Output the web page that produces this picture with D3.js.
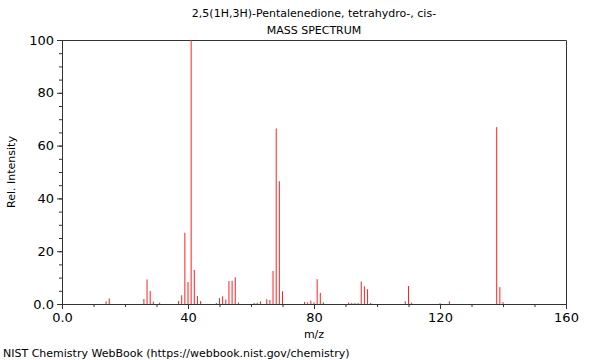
<!DOCTYPE html>
<html>
<head>
<meta charset="utf-8">
<title>Mass spectrum</title>
<style>
  body { margin: 0; background: #fff; }
  text { font-family: "DejaVu Sans", sans-serif; fill: #000; }
</style>
</head>
<body>
<script src="https://d3js.org/d3.v7.min.js"></script>
<script>
// peaks
var mz        = [14, 15, 26, 27, 28, 29, 31, 37, 38, 39, 40, 41, 42, 43, 44,
                 49, 50, 51, 52, 53, 54, 55, 56, 61, 62, 63, 65, 66, 67, 68, 69, 70,
                 77, 78, 79, 80, 81, 82, 83, 91, 92, 93, 94, 95, 96, 97, 98,
                 109, 110, 111, 120, 123, 138, 139, 140];
var intensity = [1.0, 2.1, 1.9, 9.3, 4.9, 0.9, 0.5, 1.1, 3.3, 27, 8.3, 100, 12.9, 3.0, 1.1,
                 0.4, 2.2, 2.9, 1.7, 8.7, 8.8, 10.1, 0.6, 0.4, 0.5, 1.0, 1.8, 1.5, 12.5, 66.5, 46.5, 4.8,
                 0.8, 0.6, 1.3, 0.6, 9.4, 4.2, 0.6, 0.6, 0.4, 0.4, 0.4, 8.5, 6.7, 5.6, 0.4,
                 1.0, 6.8, 0.5, 0.3, 1.0, 67, 6.4, 0.7];
var xTicks = [0, 40, 80, 120, 160];
var yTicks = [0, 20, 40, 60, 80, 100];
var title1 = "2,5(1H,3H)-Pentalenedione, tetrahydro-, cis-";
var title2 = "MASS SPECTRUM";

var width = 600, height = 360;
var mLeft = 62, mRight = 566, mTop = 40, mBottom = 304;

var svg = d3.select("body").append("svg")
    .attr("width", width)
    .attr("height", height);

var x = d3.scaleLinear().domain([0, 160]).range([mLeft, mRight]);
var y = d3.scaleLinear().domain([0, 100]).range([mBottom, mTop]);

function fmt(d) { return d === 0 ? "0.0" : String(d); }

// minor ticks
var xMinor = d3.axisBottom(x).tickValues(d3.range(0, 161, 10)).tickSize(3).tickFormat("");
var yMinor = d3.axisLeft(y).tickValues(d3.range(0, 101, 5)).tickSize(3).tickFormat("");

svg.append("g").attr("transform", "translate(0," + mBottom + ")").call(xMinor)
    .call(function(g) { g.select(".domain").remove(); g.selectAll("line").attr("stroke", "#333"); });
svg.append("g").attr("transform", "translate(" + mLeft + ",0)").call(yMinor)
    .call(function(g) { g.select(".domain").remove(); g.selectAll("line").attr("stroke", "#333"); });

var xAxis = d3.axisBottom(x).tickValues(xTicks).tickSize(5).tickSizeOuter(0).tickPadding(4).tickFormat(fmt);
var yAxis = d3.axisLeft(y).tickValues(yTicks).tickSize(5).tickSizeOuter(0).tickPadding(3).tickFormat(fmt);

svg.append("g").attr("transform", "translate(0," + mBottom + ")").call(xAxis)
    .call(function(g) {
        g.select(".domain").attr("stroke", "#333");
        g.selectAll("line").attr("stroke", "#333");
        g.selectAll("text").attr("font-size", 13).attr("font-family", "DejaVu Sans");
    });
svg.append("g").attr("transform", "translate(" + mLeft + ",0)").call(yAxis)
    .call(function(g) {
        g.select(".domain").attr("stroke", "#333");
        g.selectAll("line").attr("stroke", "#333");
        g.selectAll("text").attr("font-size", 13).attr("font-family", "DejaVu Sans");
    });

// frame top and right
svg.append("path")
    .attr("d", "M" + mLeft + "," + (mTop + 0.5) + "H" + (mRight + 0.5) + "V" + mBottom)
    .attr("fill", "none")
    .attr("stroke", "#333");

// peaks
svg.append("g").selectAll("line")
    .data(mz)
    .enter()
    .append("line")
    .attr("x1", function(d) { return x(d); })
    .attr("x2", function(d) { return x(d); })
    .attr("y1", y(0))
    .attr("y2", function(d, i) { return y(intensity[i]); })
    .attr("stroke", "#ff2020")
    .attr("stroke-width", 1);

// titles and labels
svg.append("text").attr("x", (mLeft + mRight) / 2).attr("y", 17)
    .attr("text-anchor", "middle").attr("font-size", 11).text(title1);
svg.append("text").attr("x", (mLeft + mRight) / 2).attr("y", 34)
    .attr("text-anchor", "middle").attr("font-size", 11).text(title2);
svg.append("text").attr("x", (mLeft + mRight) / 2).attr("y", 338)
    .attr("text-anchor", "middle").attr("font-size", 11).text("m/z");
svg.append("text")
    .attr("transform", "translate(15," + ((mTop + mBottom) / 2) + ") rotate(-90)")
    .attr("text-anchor", "middle").attr("font-size", 11).text("Rel. Intensity");
svg.append("text").attr("x", 3).attr("y", 357)
    .attr("font-size", 11).text("NIST Chemistry WebBook (https://webbook.nist.gov/chemistry)");
</script>
</body>
</html>
